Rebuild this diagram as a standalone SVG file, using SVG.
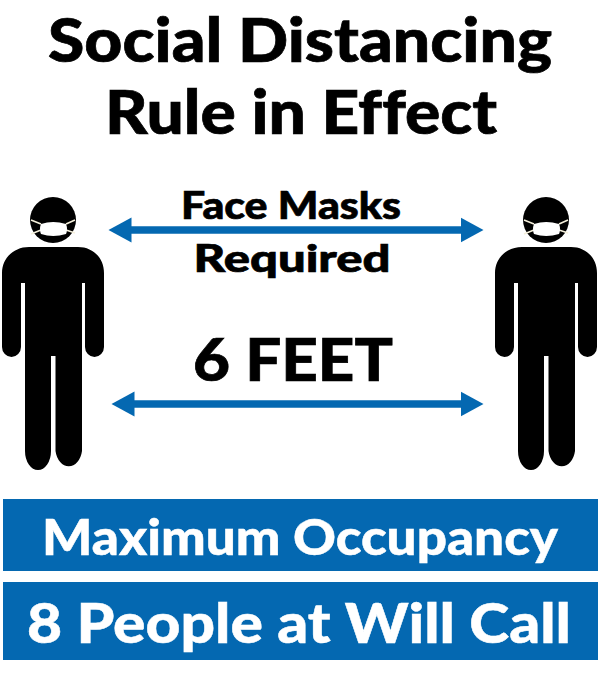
<svg xmlns="http://www.w3.org/2000/svg" width="600" height="674" viewBox="0 0 600 674">
<style>
text{font-family:"Lato","Noto Sans",sans-serif;font-weight:900;text-anchor:middle;font-variant-ligatures:none}
.t{fill:#000;stroke:#000;stroke-width:.7}.w{fill:#fff;stroke:#fff;stroke-width:.5}.b{fill:#0468b1}
.arrow{stroke:#0468b1;stroke-width:7.500;fill:none;marker-start:url(#ah);marker-end:url(#ah)}
</style>
<defs>
<marker id="ah" markerUnits="userSpaceOnUse" markerWidth="24" markerHeight="26" refX="0.500" refY="13" orient="auto-start-reverse"><path d="M0 .5L23 13L0 25.500Z" fill="#0468b1"/></marker>
<g id="person">
<circle cx="53" cy="220" r="23" fill="#000"/>
<path d="M31 220L41 224M31 234L41 230M75 220L66 224M75 233L66 230" stroke="#f5f0dc" stroke-width="1.6" fill="none"/>
<path d="M41 224Q53 220 66 224Q68 229 66 234Q53 238 41 234Q39 229 41 224Z" fill="#fff"/>
<path d="M29 247H78C93 247 104 258 104 273V347A9.500 10 0 0 1 85 347V283H82V451A13.500 19 0 0 1 55.500 451V356H51V451A13 19 0 0 1 25 451V283H21V347A9.500 10 0 0 1 2 347V273C2 258 14 247 29 247Z" fill="#000"/>
</g>
</defs>
<g id="title">
<text class="t" x="300" y="62" font-size="60" textLength="504" lengthAdjust="spacingAndGlyphs">Social Distancing</text>
<text class="t" x="301" y="134" font-size="60" textLength="392" lengthAdjust="spacingAndGlyphs">Rule in Effect</text>
</g>
<g id="connectors">
<path class="arrow" d="M131 230H461"/>
<path class="arrow" d="M134 404H461"/>
</g>
<g id="person-left"><use href="#person"/></g>
<g id="person-right"><use href="#person" x="493"/></g>
<g id="label-masks">
<text class="t" x="291" y="219" font-size="38" textLength="220" lengthAdjust="spacingAndGlyphs">Face Masks</text>
<text class="t" x="292" y="272" font-size="38" textLength="197" lengthAdjust="spacingAndGlyphs">Required</text>
</g>
<g id="label-feet"><text class="t" x="293" y="381" font-size="59" textLength="200" lengthAdjust="spacingAndGlyphs">6 FEET</text></g>
<g id="banner-occupancy">
<rect class="b" x="3" y="499" width="595" height="72"/>
<text class="w" x="300" y="555" font-size="50" textLength="516" lengthAdjust="spacingAndGlyphs">Maximum Occupancy</text>
</g>
<g id="banner-people">
<rect class="b" x="3" y="582" width="595" height="78"/>
<text class="w" x="299" y="643" font-size="55" textLength="544" lengthAdjust="spacingAndGlyphs">8 People at Will Call</text>
</g>
</svg>
